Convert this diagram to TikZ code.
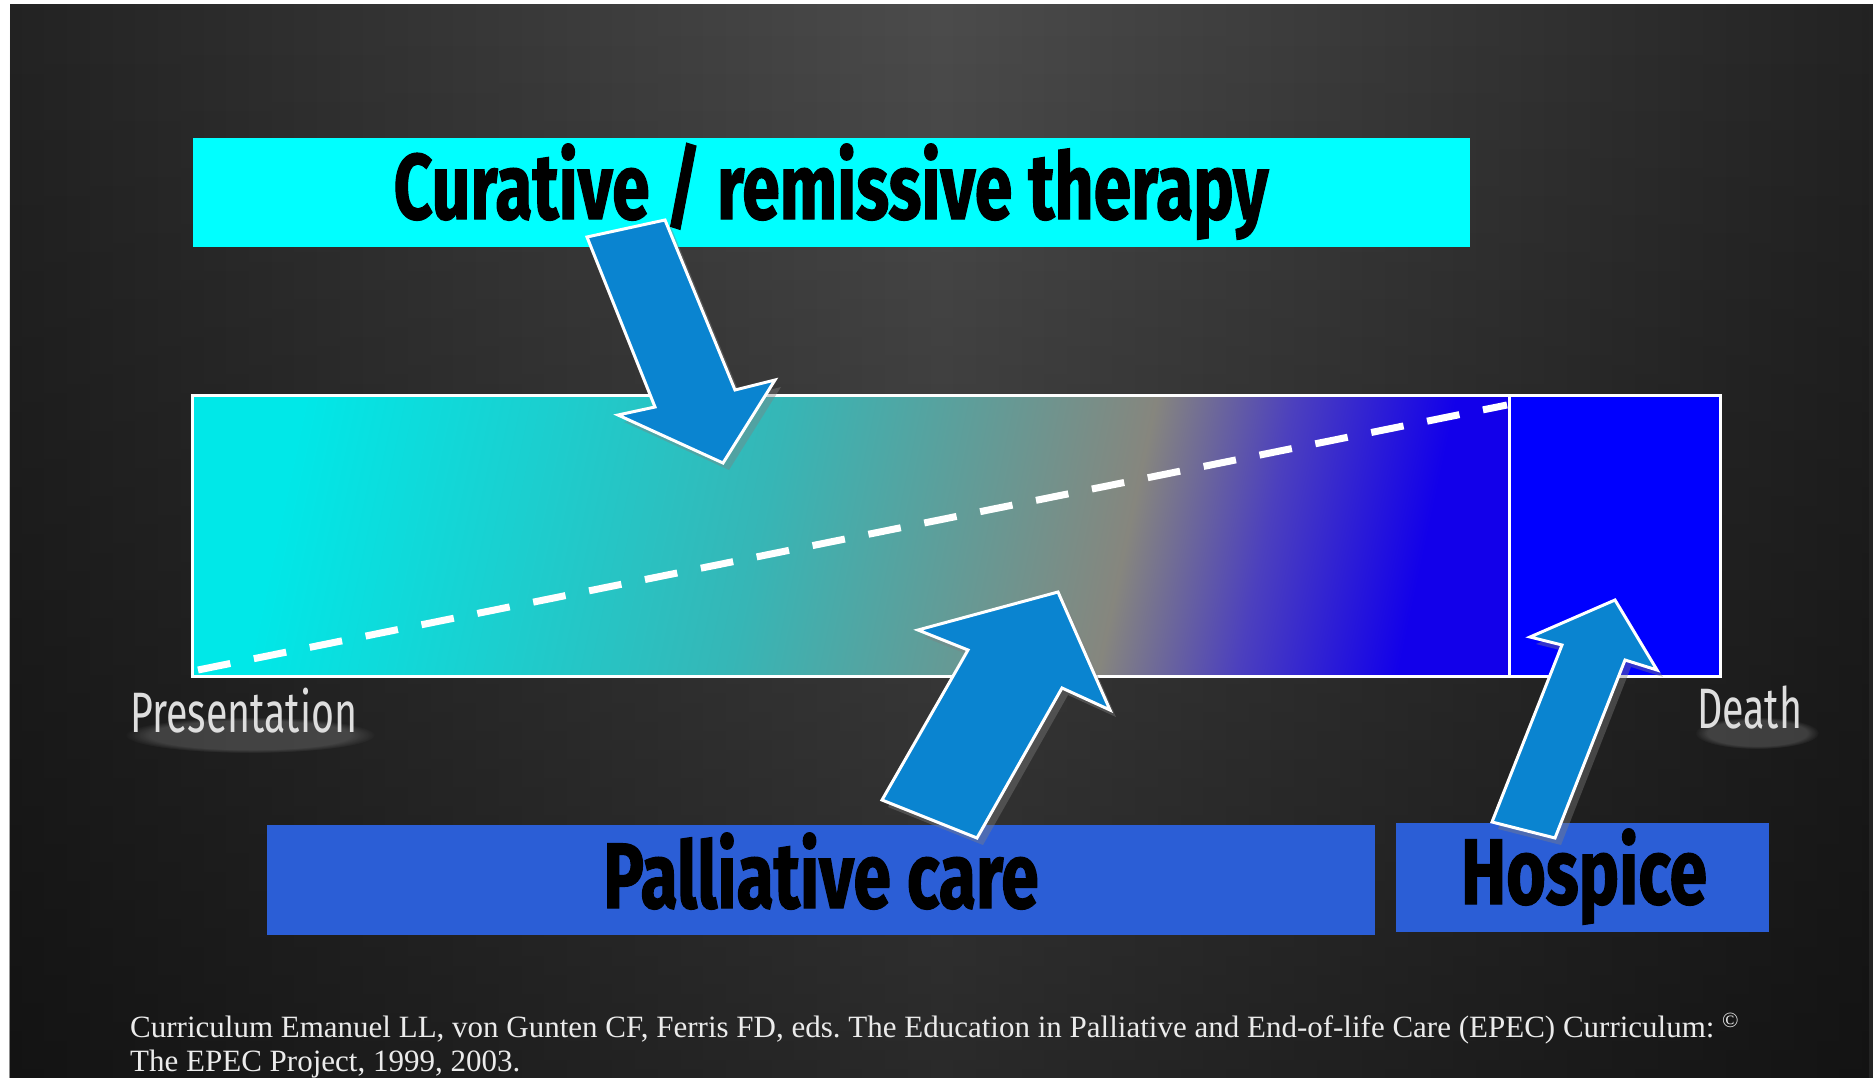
\documentclass[tikz,border=0pt]{standalone}
\usepackage{fontspec}
\usepackage{tikz}
\usetikzlibrary{shadows,fadings}
\setmainfont{Liberation Serif}
\newfontfamily\headfont[FakeStretch=0.73,BoldFeatures={FakeBold=1.2}]{Fira Sans}
\newfontfamily\endfont[FakeStretch=0.69]{Fira Sans}
\definecolor{bgdark}{HTML}{232323}
\definecolor{bgmid}{HTML}{4C4C4C}
\definecolor{curacyan}{HTML}{00FFFF}
\definecolor{palblue}{HTML}{2B5ED6}
\definecolor{arrowblue}{HTML}{0A84D0}
\definecolor{barcyan}{HTML}{00E8E8}
\definecolor{barteal}{HTML}{36B6B6}
\definecolor{bargrey}{HTML}{86867E}
\definecolor{barviolet}{HTML}{4C40BE}
\definecolor{barblue}{HTML}{1200EA}
\definecolor{labelgrey}{HTML}{DEDEDE}
\pgfdeclarehorizontalshading{barshade}{100bp}{color(0bp)=(barcyan); color(25bp)=(barcyan);
  color(46bp)=(barteal); color(62bp)=(bargrey); color(68bp)=(barviolet); color(75bp)=(barblue);
  color(100bp)=(barblue)}
\tikzfading[name=bgfade, top color=transparent!100, bottom color=transparent!55]
\tikzstyle{box}=[inner sep=0pt, outer sep=0pt]
\tikzstyle{headtext}=[inner sep=0pt, text=black,
  font=\headfont\bfseries\fontsize{93}{100}\selectfont]
\tikzstyle{endlabel}=[inner sep=0pt, text=labelgrey,
  font=\endfont\fontsize{57}{60}\selectfont]
\tikzstyle{glow}=[white, opacity=0.16, path fading=circle with fuzzy edge 20 percent]
\tikzstyle{bigarrow}=[fill=arrowblue, draw=white, line width=3pt,
  drop shadow={shadow xshift=6pt, shadow yshift=-7pt, opacity=0.4}]

\begin{document}
\begin{tikzpicture}[x=1pt, y=-1pt]
    \useasboundingbox (0,0) rectangle (1873,1078);
    % background
    \fill[white] (0,0) rectangle (1873,1078);
    \shade[left color=bgdark, right color=bgdark, middle color=bgmid] (10,5) rectangle (1873,1078);
    \fill[black, path fading=bgfade] (10,5) rectangle (1873,1078);

    % top label
    \node[box, fill=curacyan, minimum width=1277pt, minimum height=109pt] (curative) at (831.5,192.5) {};
    \node[headtext, anchor=base] (curtext) at (831,219) {Curative / remissive therapy};

    % the course bar
    \coordinate (barNW) at (192,395);
    \coordinate (barSE) at (1720,676);
    \coordinate (split) at (1509,395);
    \shade[shading=barshade, shading angle=-12] (barNW) rectangle (split |- barSE);
    \fill[blue] (split) rectangle (barSE);
    \draw[white, line width=7pt, dash pattern=on 33pt off 24pt] (198,670) -- (1507,405);
    \draw[white, line width=3pt] (barNW) rectangle (barSE);
    \draw[white, line width=3pt] (split) -- (split |- barSE);

    \fill[glow] (250,735) ellipse (125 and 18);
    \fill[glow] (1757,733) ellipse (62 and 16);
    \node[endlabel, anchor=base west] (presentation) at (130,732) {Presentation};
    \node[endlabel, anchor=base west] (death) at (1697,728) {Death};

    % bottom labels
    \node[box, fill=palblue, minimum width=1108pt, minimum height=110pt] (palliative) at (821,879.5) {};
    \node[box, fill=palblue, minimum width=373pt, minimum height=109pt] (hospice) at (1582.5,877.5) {};
    \node[headtext, anchor=base] (paltext) at (821,908) {Palliative care};
    \node[headtext, anchor=base] (hosptext) at (1584,904) {Hospice};

    % block arrows
    \draw[bigarrow] (587,237) -- (665,220) -- (735,390) -- (775,380) -- (723,463) -- (618,415) -- (655,407) -- cycle;
    \draw[bigarrow] (882,800) -- (977,838) -- (1062,688) -- (1110,710) -- (1058,592) -- (918,630) -- (968,650) -- cycle;
    \draw[bigarrow] (1492,822) -- (1555,838) -- (1625,660) -- (1657,670) -- (1615,600) -- (1530,637) -- (1562,645) -- cycle;

    % source
    \node[anchor=base west, inner sep=0pt, align=left, text=white!92!black,
      font=\frenchspacing\fontsize{31}{34}\selectfont] (source) at (130,1071)
      {Curriculum Emanuel LL, von Gunten CF, Ferris FD, eds. The Education in Palliative and End-of-life Care (EPEC) Curriculum: \textsuperscript{\textcopyright}\\
      The EPEC Project, 1999, 2003.};
\end{tikzpicture}
\end{document}
